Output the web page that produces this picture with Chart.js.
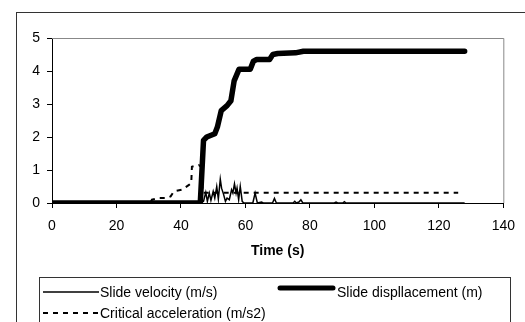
<!DOCTYPE html>
<html lang="en">
<head>
    <meta charset="UTF-8">
    <title>Slide velocity and displacement</title>
    <script src="https://cdn.jsdelivr.net/npm/chart.js"></script>
    <style>
        body { margin: 0; width: 525px; height: 322px; overflow: hidden; background: #fff; font-family: "Liberation Sans", Arial, sans-serif; }
        #frame { position: absolute; left: 16px; top: 12px; width: 700px; height: 500px; border-left: 1px solid #333; border-top: 1px solid #333; }
        #chart { position: absolute; left: 0; top: 0; }
        #legend { position: absolute; left: 39px; top: 277px; width: 470px; height: 80px; border: 1px solid #333; font-size: 14px; color: #000; }
        .item { position: absolute; white-space: nowrap; line-height: 16px; }
        .item svg { position: absolute; }
    </style>
</head>
<body>
    <div id="frame"></div>
    <canvas id="chart" width="525" height="322"></canvas>
    <div id="legend">
        <div class="item" style="left:60px; top:6px;">
            <svg width="56" height="6" style="left:-57px; top:5px;"><line x1="0" y1="3" x2="56" y2="3" stroke="#000" stroke-width="1.5"/></svg>
            Slide velocity (m/s)
        </div>
        <div class="item" style="left:297px; top:6px;">
            <svg width="60" height="8" style="left:-60px; top:0px;"><line x1="3" y1="4" x2="56" y2="4" stroke="#000" stroke-width="5" stroke-linecap="round"/></svg>
            Slide displlacement (m)
        </div>
        <div class="item" style="left:60px; top:27px;">
            <svg width="56" height="6" style="left:-57px; top:5px;"><line x1="0" y1="3" x2="56" y2="3" stroke="#000" stroke-width="2" stroke-dasharray="5 5"/></svg>
            Critical acceleration (m/s2)
        </div>
    </div>

    <script>
        // Slide velocity (m/s)
        const velTime = [0, 46, 47, 47.7, 48.2, 48.8, 49.3, 50.0, 50.5, 51.1, 51.6, 52.2, 52.6, 53.2, 53.8, 54.3, 55.0, 55.7, 56.1, 56.6, 57.1, 57.4, 57.9, 58.4, 59.0, 59.5, 62.3, 63.0, 63.7, 65.0, 65.5, 68.4, 69.0, 69.6, 74.8, 75.3, 75.8, 76.6, 77.2, 77.8, 87.6, 88.1, 88.6, 90.2, 90.7, 91.2, 128];
        const velValue = [0, 0, 0.05, 0.32, 0.05, 0.3, 0.08, 0.35, 0.15, 0.5, 0.12, 0.72, 0.45, 0.27, 0.05, 0.15, 0.1, 0.4, 0.3, 0.58, 0.3, 0.45, 0.1, 0.5, 0.05, 0, 0, 0.3, 0, 0.03, 0, 0, 0.14, 0, 0, 0.05, 0, 0.03, 0.1, 0, 0, 0.03, 0, 0, 0.04, 0, 0];

        // Slide displacement (m)
        const dispTime = [0, 46, 47, 48, 50.5, 51.3, 52.5, 54.3, 55.5, 56.5, 58, 61.5, 62.5, 63.5, 67.5, 68.5, 70, 75.5, 78, 128];
        const dispValue = [0, 0, 1.9, 2.0, 2.1, 2.3, 2.8, 2.95, 3.1, 3.7, 4.05, 4.05, 4.3, 4.35, 4.35, 4.5, 4.53, 4.55, 4.6, 4.6];

        // Critical acceleration (m/s2)
        const critTime = [0, 30.5, 31, 33, 35.5, 36.8, 37.8, 40.5, 42.5, 43.2, 43.4, 45.5, 46.2, 46.8, 126];
        const critValue = [0, 0, 0.1, 0.15, 0.15, 0.2, 0.35, 0.41, 0.55, 0.6, 1.1, 1.15, 1.1, 0.31, 0.31];

        const xTicks = [0, 20, 40, 60, 80, 100, 120, 140];
        const yTicks = [0, 1, 2, 3, 4, 5];

        function toPoints(xs, ys) {
            return xs.map((x, i) => ({ x: x, y: ys[i] }));
        }

        // top and right edges of the plot area in grey
        const plotFrame = {
            id: 'plotFrame',
            beforeDatasetsDraw(chart) {
                const a = chart.chartArea;
                const ctx = chart.ctx;
                ctx.save();
                ctx.strokeStyle = '#888';
                ctx.lineWidth = 1;
                ctx.beginPath();
                ctx.moveTo(a.left, a.top + 0.5);
                ctx.lineTo(a.right + 0.5, a.top + 0.5);
                ctx.lineTo(a.right + 0.5, a.bottom);
                ctx.stroke();
                ctx.restore();
            }
        };

        const tickFont = { family: '"Liberation Sans", Arial, sans-serif', size: 14 };

        new Chart(document.getElementById('chart'), {
            type: 'line',
            data: {
                datasets: [
                    {
                        label: 'Slide velocity (m/s)',
                        data: toPoints(velTime, velValue),
                        borderColor: '#000',
                        borderWidth: 1.5,
                        pointRadius: 0,
                        order: 1
                    },
                    {
                        label: 'Slide displlacement (m)',
                        data: toPoints(dispTime, dispValue),
                        borderColor: '#000',
                        borderWidth: 5.5,
                        borderCapStyle: 'round',
                        borderJoinStyle: 'round',
                        pointRadius: 0,
                        order: 0
                    },
                    {
                        label: 'Critical acceleration (m/s2)',
                        data: toPoints(critTime, critValue),
                        borderColor: '#000',
                        borderWidth: 2,
                        borderDash: [5, 5],
                        pointRadius: 0,
                        order: 2
                    }
                ]
            },
            options: {
                responsive: false,
                animation: false,
                devicePixelRatio: 1,
                layout: { padding: { left: 0, top: 38, right: 19, bottom: 62 } },
                plugins: {
                    legend: { display: false },
                    tooltip: { enabled: false }
                },
                scales: {
                    x: {
                        type: 'linear',
                        min: 0,
                        max: 140,
                        afterBuildTicks: s => { s.ticks = xTicks.map(v => ({ value: v })); },
                        afterFit: s => { s.height = 57; },
                        grid: { drawOnChartArea: false, tickLength: 5, tickColor: '#000' },
                        border: { color: '#000', width: 1 },
                        ticks: { color: '#000', font: tickFont, padding: 10, maxRotation: 0 },
                        title: {
                            display: true,
                            text: 'Time (s)',
                            color: '#000',
                            font: { family: '"Liberation Sans", Arial, sans-serif', size: 14, weight: 'bold' },
                            padding: 0
                        }
                    },
                    y: {
                        min: 0,
                        max: 5,
                        afterBuildTicks: s => { s.ticks = yTicks.map(v => ({ value: v })); },
                        afterFit: s => { s.width = 52; },
                        grid: { drawOnChartArea: false, tickLength: 5, tickColor: '#000' },
                        border: { color: '#000', width: 1 },
                        ticks: { color: '#000', font: tickFont, padding: 7 }
                    }
                }
            },
            plugins: [plotFrame]
        });
    </script>
</body>
</html>
